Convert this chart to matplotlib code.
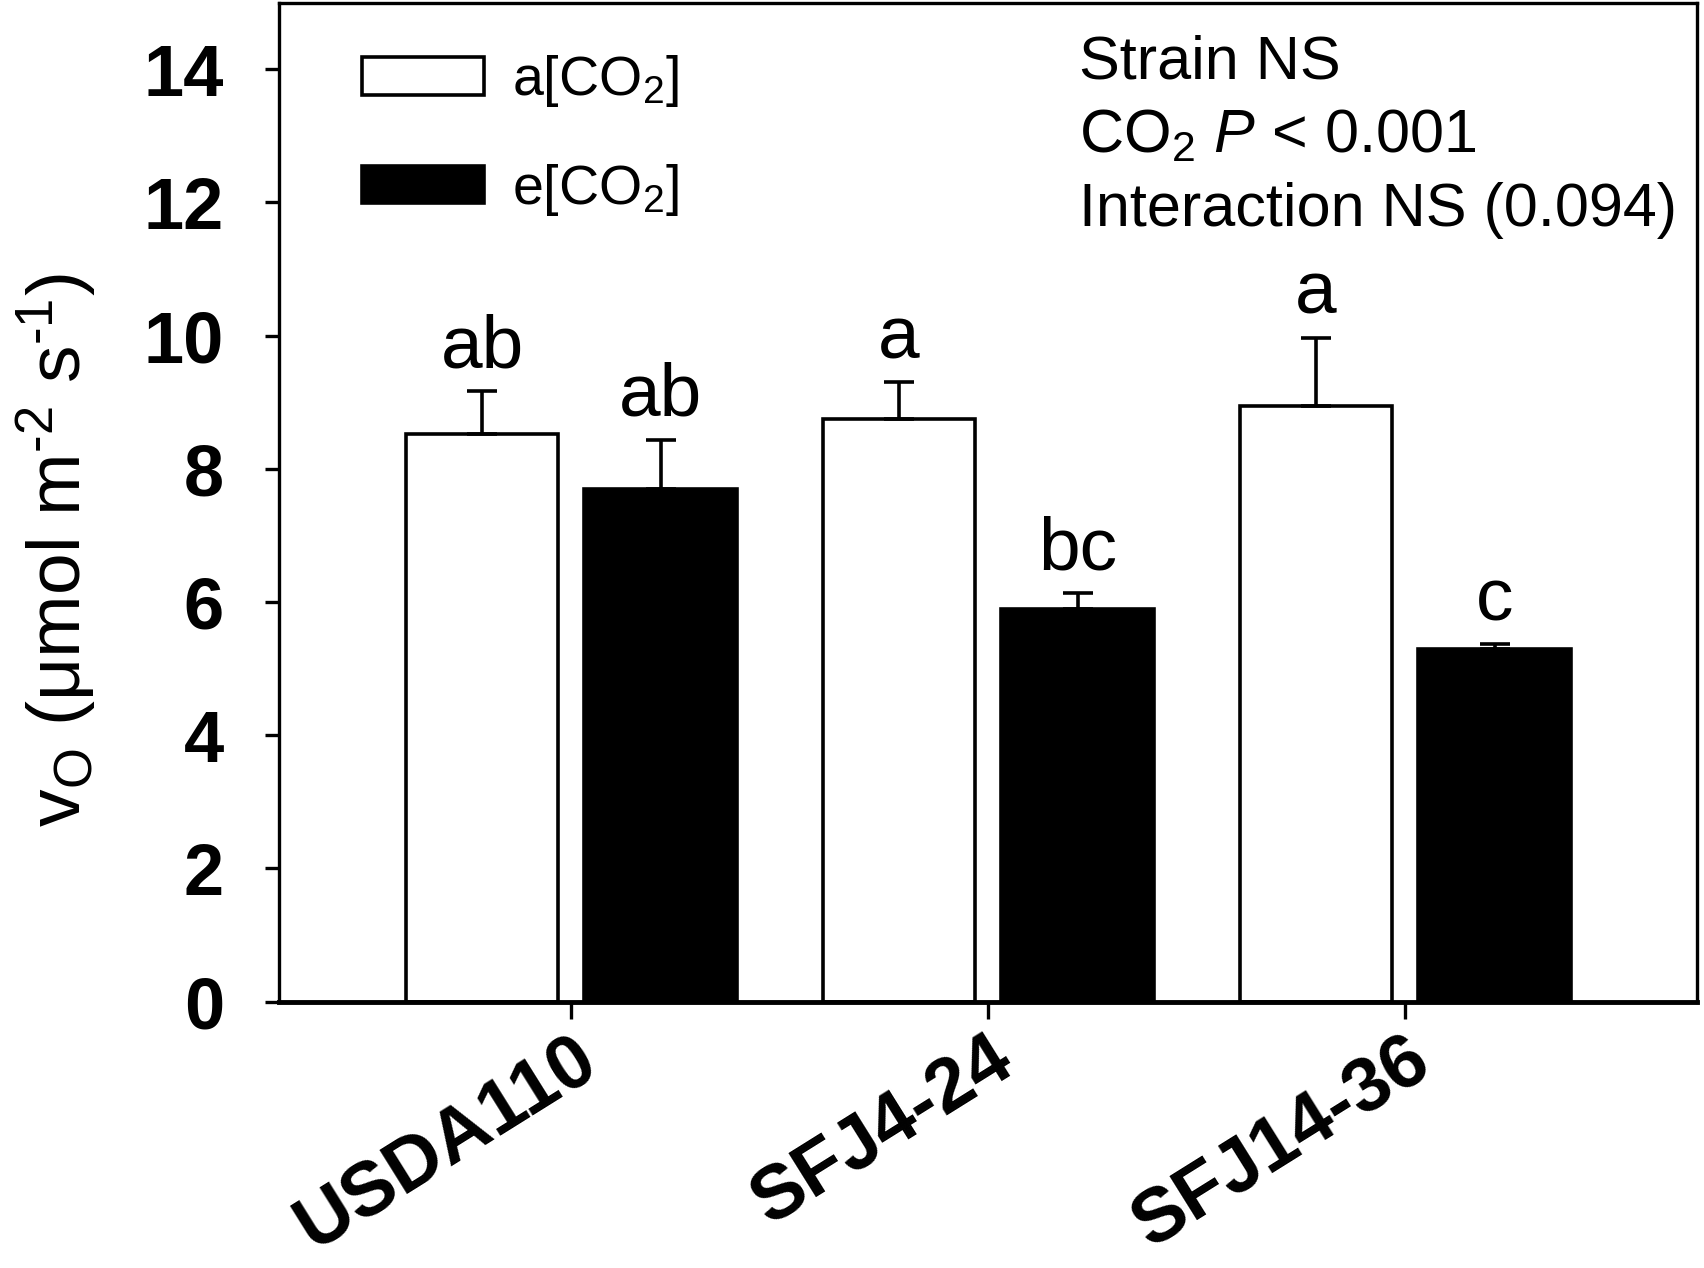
import matplotlib
matplotlib.use("Agg")
import matplotlib.pyplot as plt
import matplotlib.transforms as mtrans
import numpy as np

plt.rcParams["font.family"] = ["Liberation Sans", "DejaVu Sans"]
plt.rcParams["mathtext.fontset"] = "custom"
plt.rcParams["mathtext.rm"] = "Liberation Sans"
plt.rcParams["mathtext.it"] = "Liberation Sans:italic"
plt.rcParams["mathtext.bf"] = "Liberation Sans:bold"

strains = ["USDA110", "SFJ4-24", "SFJ14-36"]
ambient = [8.53, 8.75, 8.94]
ambient_se = [0.64, 0.55, 1.03]
elevated = [7.69, 5.89, 5.30]
elevated_se = [0.75, 0.25, 0.07]
ambient_letters = ["ab", "a", "a"]
elevated_letters = ["ab", "bc", "c"]
series_labels = [r"a[CO$_2$]", r"e[CO$_2$]"]
stats_lines = ["Strain NS", r"CO$_2$ $P$ < 0.001", "Interaction NS (0.094)"]

x = np.arange(len(strains))
width = 0.365
offset = 0.214

fig = plt.figure(figsize=(17.04, 12.68), dpi=100)
ax = fig.add_axes([0.164, 0.21, 0.832, 0.788])

err_kw = dict(capsize=10.5, elinewidth=2.6, capthick=2.6, ecolor="black")
zeros = np.zeros(len(strains))
ax.bar(x - offset, ambient, width, color="white", edgecolor="black", linewidth=2.6,
       yerr=[zeros, ambient_se], error_kw=err_kw, label=series_labels[0])
ax.bar(x + offset, elevated, width, color="black", edgecolor="black", linewidth=2.6,
       yerr=[zeros, elevated_se], error_kw=err_kw, label=series_labels[1])

for xs, vals, ses, letters in [(x - offset, ambient, ambient_se, ambient_letters),
                               (x + offset, elevated, elevated_se, elevated_letters)]:
    for xi, v, s, lt in zip(xs, vals, ses, letters):
        ax.annotate(lt, (xi, v + s), xytext=(0, 17), textcoords="offset points",
                    ha="center", va="baseline", fontsize=54)

ax.set_xlim(-0.7, 2.7)
ax.set_ylim(0, 15)
ax.set_yticks(np.arange(0, 15, 2))
ax.set_yticklabels([str(v) for v in range(0, 15, 2)], fontsize=52, fontweight="bold")
ax.set_xticks(x)
ax.set_xticklabels(strains, fontsize=55, fontweight="bold",
                   rotation=32, ha="right", va="top", rotation_mode="anchor")
shift = mtrans.ScaledTranslation(0.1, 0.02, fig.dpi_scale_trans)
for lab in ax.get_xticklabels():
    lab.set_transform(lab.get_transform() + shift)
ax.tick_params(axis="y", direction="out", length=10, width=2.4, pad=30)
ax.tick_params(axis="x", direction="out", length=12, width=2.4, pad=4)
for sp in ax.spines.values():
    sp.set_linewidth(2.4)
ax.spines["bottom"].set_linewidth(3.5)

ax.set_ylabel("v$_\\mathregular{O}$ (μmol m$^{\u2010 2}$ s$^{\u2010 1}$)", fontsize=54)
ax.yaxis.set_label_coords(-0.127, 0.452)

ax.legend(loc="upper left", bbox_to_anchor=(0.058, 0.949), frameon=False, fontsize=40,
          handlelength=2.2, handleheight=0.65, handletextpad=0.5, labelspacing=0.94,
          borderaxespad=0, borderpad=0)

for yy, line in zip([0.924, 0.850, 0.776], stats_lines):
    ax.text(0.564, yy, line, transform=ax.transAxes, fontsize=44, va="baseline", ha="left")

fig.savefig("out.png", dpi=100)
